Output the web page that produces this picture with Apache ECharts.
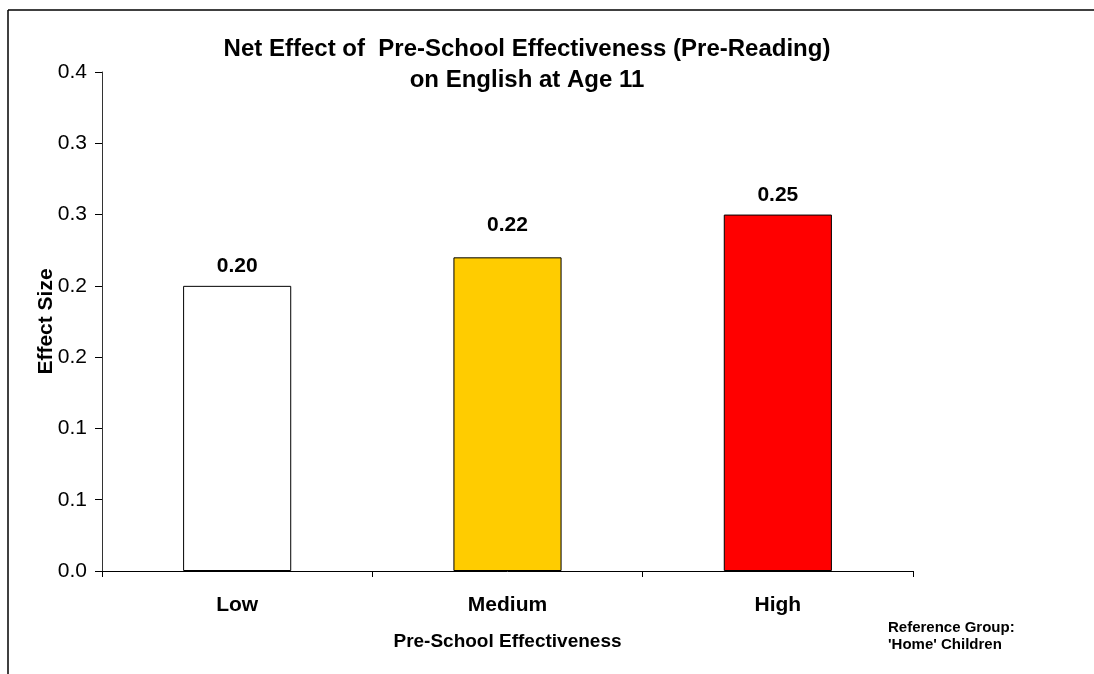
<!DOCTYPE html>
<html>
<head>
<meta charset="utf-8">
<script src="https://cdn.jsdelivr.net/npm/echarts@6/dist/echarts.min.js"></script>
<style>
html,body{margin:0;padding:0;background:#fff;}
#chart{width:1094px;height:674px;}
</style>
</head>
<body>
<div id="chart"></div>
<script>
const categories = ['Low', 'Medium', 'High'];
const effectSizes = [0.20, 0.22, 0.25];
const barColors = ['#FFFFFF', '#FFCC00', '#FF0000'];
const labelLift = [0, -13, 0];
const yTickLabels = ['0.0', '0.1', '0.1', '0.2', '0.2', '0.3', '0.3', '0.4'];
const yMin = 0, yMax = 0.35, yStep = 0.05;

const FONT = '"Liberation Sans", Arial, sans-serif';
const chart = echarts.init(document.getElementById('chart'));
chart.setOption({
  backgroundColor: '#ffffff',
  animation: false,
  textStyle: { fontFamily: FONT, color: '#000' },
  title: {
    text: 'Net Effect of  Pre-School Effectiveness (Pre-Reading)\non English at Age 11',
    left: 522, top: 29, textAlign: 'center',
    textStyle: { fontFamily: FONT, fontWeight: 'bold', fontSize: 24, lineHeight: 31, color: '#000' }
  },
  grid: { left: 102, right: 181, top: 72, bottom: 103 },
  xAxis: {
    type: 'category',
    data: categories,
    boundaryGap: true,
    name: 'Pre-School Effectiveness',
    nameLocation: 'middle',
    nameGap: 61,
    nameMoveOverlap: false,
    nameTextStyle: { fontFamily: FONT, fontWeight: 'bold', fontSize: 19, color: '#000' },
    axisLine: { lineStyle: { color: '#000', width: 1 } },
    axisTick: { show: true, length: 6, lineStyle: { color: '#000' } },
    axisLabel: { margin: 24, fontFamily: FONT, fontWeight: 'bold', fontSize: 21, color: '#000' },
    splitLine: { show: false }
  },
  yAxis: {
    type: 'value',
    min: yMin, max: yMax, interval: yStep,
    name: 'Effect Size',
    nameLocation: 'middle',
    nameRotate: 90,
    nameGap: 45,
    nameMoveOverlap: false,
    nameTextStyle: { fontFamily: FONT, fontWeight: 'bold', fontSize: 21, color: '#000' },
    axisLine: { show: true, lineStyle: { color: '#333', width: 1 } },
    axisTick: { show: true, length: 7, lineStyle: { color: '#000' } },
    axisLabel: {
      margin: 15, fontFamily: FONT, fontSize: 21, color: '#000',
      formatter: function (v) { return yTickLabels[Math.round(v / yStep)]; }
    },
    splitLine: { show: false }
  },
  series: [{
    type: 'bar',
    barWidth: '40%',
    data: effectSizes.map((v, i) => ({
      value: v,
      itemStyle: { color: barColors[i], borderColor: '#000', borderWidth: 1 },
      label: { offset: [0, labelLift[i]] }
    })),
    label: {
      show: true, position: 'top', distance: 9,
      fontFamily: FONT, fontWeight: 'bold', fontSize: 21, color: '#000',
      formatter: function (p) { return p.value.toFixed(2); }
    }
  }],
  graphic: [
    { type: 'line', shape: { x1: 8, y1: 10, x2: 1094, y2: 10 }, style: { stroke: '#000', lineWidth: 1.5 } },
    { type: 'line', shape: { x1: 8, y1: 10, x2: 8, y2: 674 }, style: { stroke: '#000', lineWidth: 1.5 } },
    {
      type: 'text', left: 888, top: 619,
      style: {
        text: "Reference Group:\n'Home' Children",
        font: 'bold 15px ' + FONT, fill: '#000', lineHeight: 17
      }
    }
  ]
});
</script>
</body>
</html>
